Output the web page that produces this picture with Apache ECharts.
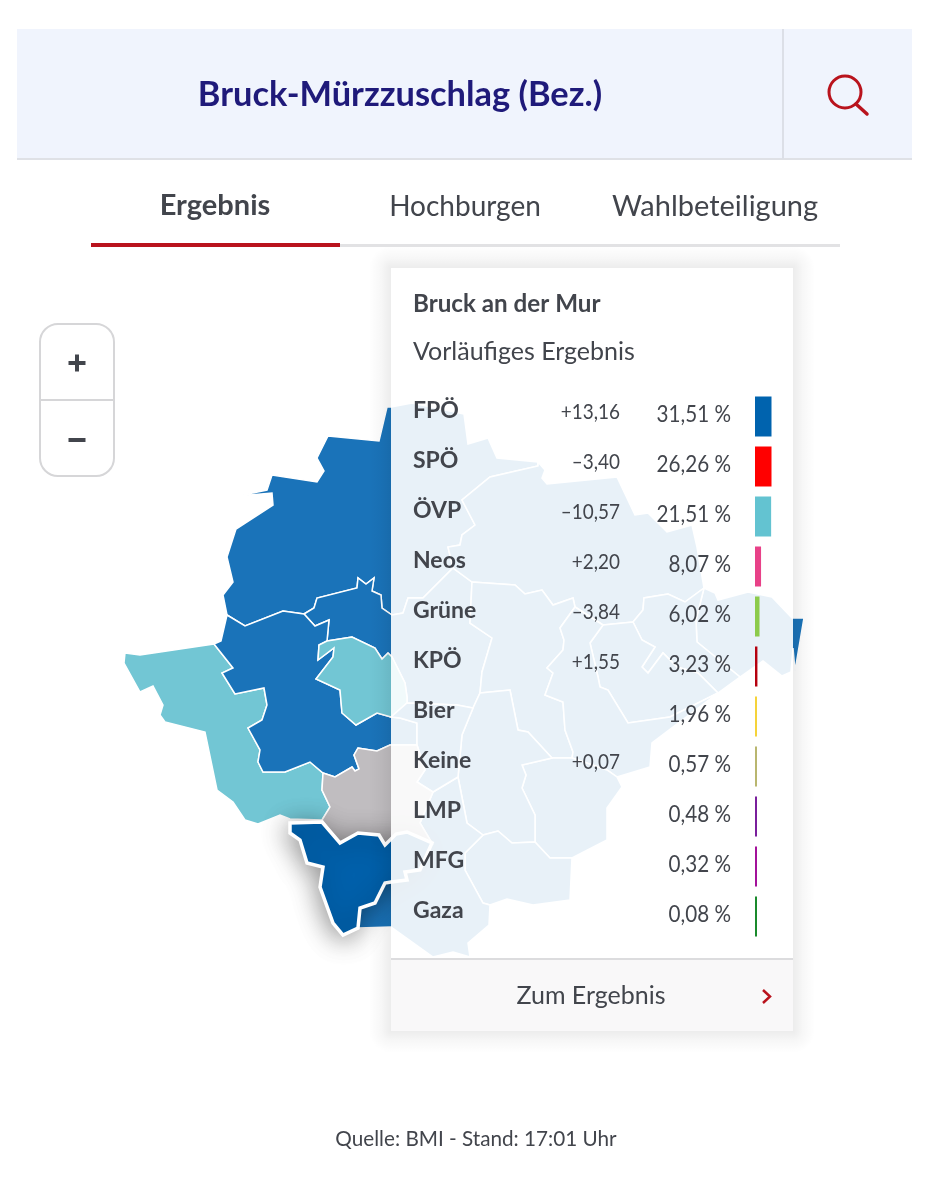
<!DOCTYPE html>
<html lang="de">
<head>
<meta charset="utf-8">
<title>Bruck-Mürzzuschlag (Bez.)</title>
<style>html,body{margin:0;padding:0;background:#fff}#chart{width:930px;height:1200px}</style>
<script src="https://cdn.jsdelivr.net/npm/echarts@6/dist/echarts.min.js"></script>
</head>
<body>
<div id="chart"></div>
<script>
// ---- result table ----
const parties = ['FPÖ','SPÖ','ÖVP','Neos','Grüne','KPÖ','Bier','Keine','LMP','MFG','Gaza'];
const shares = [31.51,26.26,21.51,8.07,6.02,3.23,1.96,0.57,0.48,0.32,0.08];
const changes = [13.16,-3.40,-10.57,2.20,-3.84,1.55,null,0.07,null,null,null];
const partyColors = ['#0063ae','#ff0000','#63c3d1','#e84188','#8ccb4b','#b5000f','#f5d33a','#b9b66f','#7a1f9c','#a3119a','#1a8a2c'];

// ---- map: municipalities and their leading party ----
const municipalities = ['Nord','Mitte-Nord','Nordost','Ost','Suedost-Mitte','Zentrum','Mitte-Ost','Suedost','Zentrum-Sued','Westzentrum','Sued','Suedrand','Westen','Westmitte','Innen','Kern','Grenzraum','Bruck an der Mur'];
const winners = ['FPÖ','FPÖ','FPÖ','FPÖ','FPÖ','FPÖ','FPÖ','FPÖ','FPÖ','FPÖ','FPÖ','FPÖ','ÖVP','FPÖ','ÖVP','FPÖ','Keine','Highlight'];
const regionColors = {'FPÖ':'#1a73b9','ÖVP':'#72c6d4','Keine':'#c0bdc0','Highlight':'#0060ab'};
const outlines = [
 [[387,407],[391,407],[412,403],[464,414],[468,444],[488,438],[497,458],[538,462],[538,466],[490,477],[462,500],[475,525],[462,535],[460,545],[448,547],[453,568],[423,598],[408,598],[403,613],[392,615],[382,608],[381,595],[372,591],[374,578],[366,584],[358,578],[357,588],[317,598],[314,608],[304,614],[283,611],[245,626],[227,615],[223,595],[233,582],[227,557],[236,529],[273,505],[272,493],[238,496],[267,490],[272,475],[317,482],[324,471],[317,458],[328,436],[379,441]],
 [[304,614],[314,608],[317,598],[357,588],[358,578],[366,584],[374,578],[372,591],[381,595],[382,608],[392,615],[403,613],[408,598],[423,598],[453,568],[472,582],[470,623],[492,638],[482,672],[480,693],[473,708],[457,705],[407,703],[407,697],[405,683],[392,657],[388,653],[382,659],[375,648],[352,637],[327,641],[329,620],[315,626]],
 [[538,462],[545,470],[542,478],[547,484],[617,477],[635,515],[648,513],[667,532],[692,525],[697,547],[704,588],[685,602],[668,594],[644,598],[643,610],[633,622],[603,625],[575,607],[573,598],[553,605],[542,590],[525,594],[515,585],[472,582],[453,568],[448,547],[460,545],[462,535],[475,525],[462,500],[490,477],[538,466]],
 [[704,588],[715,593],[718,600],[748,592],[772,597],[792,618],[804,618],[795,671],[793,648],[791,672],[782,676],[763,661],[740,677],[697,642],[696,620]],
 [[633,622],[643,610],[644,598],[668,594],[685,602],[704,588],[696,620],[697,642],[740,677],[718,693],[698,673],[677,667],[663,653],[648,673],[642,667],[655,647],[642,640]],
 [[472,582],[515,585],[525,594],[542,590],[553,605],[573,598],[575,607],[560,628],[564,640],[563,650],[547,668],[553,673],[545,695],[563,702],[565,730],[573,752],[572,758],[552,758],[528,732],[518,730],[510,690],[480,693],[482,672],[492,638],[470,623]],
 [[603,625],[633,622],[642,640],[655,647],[642,667],[648,673],[663,653],[677,667],[698,673],[718,693],[670,717],[628,723],[608,690],[600,687],[598,677],[590,643]],
 [[575,607],[603,625],[590,643],[598,677],[600,687],[608,690],[628,723],[670,717],[718,693],[652,743],[650,767],[617,777],[607,770],[572,758],[573,752],[565,730],[563,702],[545,695],[553,673],[547,668],[563,650],[564,640],[560,628]],
 [[522,765],[552,758],[572,758],[607,770],[617,777],[622,787],[607,808],[607,840],[572,858],[550,858],[535,842],[535,815],[522,788],[526,775]],
 [[480,693],[510,690],[518,730],[528,732],[552,758],[522,765],[526,775],[522,788],[535,815],[535,842],[512,843],[498,831],[483,835],[467,823],[458,777],[462,735],[473,708]],
 [[483,835],[498,831],[512,843],[535,842],[550,858],[572,858],[570,900],[533,905],[507,899],[490,905],[483,903],[465,870],[465,853]],
 [[420,823],[433,792],[458,777],[467,823],[483,835],[465,853],[465,870],[483,903],[490,905],[489,925],[468,943],[470,957],[453,952],[433,957],[391,927],[358,928],[360,908],[375,903],[385,883],[407,880],[405,872],[420,870],[432,843]],
 [[214,644],[140,655],[125,653],[124,663],[140,692],[153,686],[163,705],[160,715],[165,722],[205,732],[217,790],[233,802],[245,820],[258,824],[280,815],[290,819],[322,820],[330,807],[322,790],[323,773],[310,762],[285,772],[263,772],[258,762],[260,750],[248,728],[262,720],[267,705],[264,688],[235,694],[222,673],[233,668]],
 [[227,615],[245,626],[283,611],[304,614],[315,626],[329,620],[327,641],[319,645],[318,660],[334,648],[333,657],[316,679],[340,690],[342,713],[356,725],[377,713],[391,717],[400,718],[417,723],[417,745],[390,745],[377,751],[358,748],[354,755],[359,769],[355,771],[352,767],[335,777],[323,773],[310,762],[285,772],[263,772],[258,762],[260,750],[248,728],[262,720],[267,705],[264,688],[235,694],[222,673],[233,668],[214,644],[221,641]],
 [[319,645],[327,641],[352,637],[375,648],[382,659],[388,653],[392,657],[405,683],[407,697],[407,703],[391,717],[377,713],[356,725],[342,713],[340,690],[316,679],[333,657],[334,648],[318,660]],
 [[391,717],[407,703],[457,705],[473,708],[462,735],[458,777],[433,792],[417,782],[425,770],[417,745],[417,723],[400,718]],
 [[323,773],[335,777],[352,767],[355,771],[359,769],[354,755],[358,748],[377,751],[390,745],[417,745],[425,770],[417,782],[433,792],[420,823],[432,843],[407,832],[396,834],[385,845],[379,835],[358,833],[340,843],[322,820],[330,807],[322,790]],
 [[290,823],[322,822],[340,843],[358,833],[379,835],[385,845],[396,834],[407,832],[432,843],[420,870],[405,872],[407,880],[391,882],[385,883],[375,903],[360,908],[358,928],[343,935],[333,923],[320,887],[323,867],[307,863],[300,840],[290,833]]
];

const geo = {type:'FeatureCollection',features:municipalities.map((name,i)=>({
  type:'Feature',properties:{name},
  geometry:{type:'Polygon',coordinates:[outlines[i].concat([outlines[i][0]])]}
}))};
echarts.registerMap('bezirk',geo);

const FONT = 'Lato, "Noto Sans", sans-serif';
const INK = '#42454c';
const RED = '#b9131d';
const fmtShare = v => v.toFixed(2).replace('.',',')+' %';
const fmtChange = v => (v>0?'+':'–')+Math.abs(v).toFixed(2).replace('.',',');
const txt = (text,x,y,size,weight,fill,align,z,scaleX) => ({type:'text',x,y,z:z||60,silent:true,scaleX:scaleX||1,
  style:{text,fill,align:align||'left',verticalAlign:'middle',font:`${weight} ${size}px ${FONT}`}});

// soft popup shadow, built from edge and corner fades so it stays outside the see-through panel
const SH = 22;
const stops = [{offset:0,color:'rgba(0,0,0,0.075)'},{offset:0.45,color:'rgba(0,0,0,0.03)'},{offset:1,color:'rgba(0,0,0,0)'}];
const edge = (x,y,width,height,x0,y0,x2,y2) => ({type:'rect',z:49,silent:true,shape:{x,y,width,height},
  style:{fill:{type:'linear',x:x0,y:y0,x2,y2,colorStops:stops}}});
const corner = (x,y,cx,cy) => ({type:'rect',z:49,silent:true,shape:{x,y,width:SH,height:SH},
  style:{fill:{type:'radial',x:cx,y:cy,r:1,colorStops:stops}}});
const PX=391, PY=268, PW=402, PH=763;

const rowY = i => 416.5+50*i;
const elements = [
  // header
  {type:'rect',z:10,shape:{x:17,y:29,width:895,height:130},style:{fill:'#f0f4fd'}},
  {type:'rect',z:11,shape:{x:17,y:158,width:895,height:2},style:{fill:'#dfe1e6'}},
  {type:'rect',z:11,shape:{x:782,y:29,width:2,height:130},style:{fill:'#dcdfe7'}},
  txt('Bruck-Mürzzuschlag (Bez.)',400,95,34.4,'bold','#1f1a7a','center',12),
  {type:'circle',z:12,shape:{cx:845,cy:92,r:16},style:{fill:'none',stroke:RED,lineWidth:3}},
  {type:'line',z:12,shape:{x1:856,y1:104,x2:867,y2:114},style:{stroke:RED,lineWidth:3.5,lineCap:'round'}},
  // tabs
  txt('Ergebnis',215,206,29,'bold',INK,'center',12),
  txt('Hochburgen',465,207,28,'normal',INK,'center',12),
  txt('Wahlbeteiligung',715,207,29,'normal',INK,'center',12),
  {type:'rect',z:11,shape:{x:91,y:244,width:749,height:3},style:{fill:'#e2e2e4'}},
  {type:'rect',z:12,shape:{x:91,y:243,width:249,height:4},style:{fill:RED}},
  // zoom control
  {type:'rect',z:12,shape:{x:40,y:324,width:74,height:152,r:18},style:{fill:'#fff',stroke:'#d6d6d8',lineWidth:2}},
  {type:'line',z:13,shape:{x1:40,y1:400,x2:114,y2:400},style:{stroke:'#d6d6d8',lineWidth:2}},
  {type:'rect',z:14,shape:{x:68.5,y:361,width:17,height:4},style:{fill:INK}},
  {type:'rect',z:14,shape:{x:75,y:354.5,width:4,height:17},style:{fill:INK}},
  {type:'rect',z:14,shape:{x:68.5,y:438,width:17,height:4},style:{fill:INK}},
  // popup
  edge(PX-SH,PY,SH,PH,1,0,0,0),
  edge(PX+PW,PY,SH,PH,0,0,1,0),
  edge(PX,PY-SH,PW,SH,0,1,0,0),
  edge(PX,PY+PH,PW,SH,0,0,0,1),
  corner(PX-SH,PY-SH,1,1),
  corner(PX+PW,PY-SH,0,1),
  corner(PX-SH,PY+PH,1,0),
  corner(PX+PW,PY+PH,0,0),
  {type:'rect',z:50,shape:{x:PX,y:PY,width:PW,height:PH},style:{fill:'rgba(255,255,255,0.9)'}},
  {type:'rect',z:51,shape:{x:391,y:958,width:402,height:73},style:{fill:'#f9f8f9'}},
  {type:'rect',z:52,shape:{x:391,y:958,width:402,height:2},style:{fill:'#dcdcde'}},
  txt('Bruck an der Mur',413,304,24.2,'bold',INK),
  txt('Vorläufiges Ergebnis',413,352,25,'normal',INK),
  txt('Zum Ergebnis',591,996,25,'normal',INK,'center'),
  {type:'polyline',z:60,shape:{points:[[763,990],[770,996.5],[763,1003]]},style:{fill:'none',stroke:RED,lineWidth:2.5}},
  // source
  txt('Quelle: BMI - Stand: 17:01 Uhr',476,1139,20.7,'normal',INK,'center',12)
];
parties.forEach((p,i)=>{
  if(changes[i]!==null) elements.push(txt(fmtChange(changes[i]),620,rowY(i)-5,22,'normal',INK,'right',60,0.86));
  elements.push(txt(fmtShare(shares[i]),731,rowY(i)-2,24,'normal',INK,'right',60,0.86));
});

const chart = echarts.init(document.getElementById('chart'),null,{renderer:'canvas'});
chart.setOption({
  animation:false,
  backgroundColor:'#fff',
  graphic:{elements},
  grid:{left:755,top:391.5,width:16.5,height:550,containLabel:false},
  xAxis:{type:'value',min:0,max:22,show:false},
  yAxis:{type:'category',inverse:true,data:parties,z:100,
    axisLine:{show:false},axisTick:{show:false},splitLine:{show:false},
    axisLabel:{align:'left',verticalAlign:'bottom',lineHeight:11,margin:342,color:INK,fontFamily:FONT,fontWeight:'bold',fontSize:23}},
  series:[
    {type:'map',map:'bezirk',z:2,silent:true,roam:false,selectedMode:false,
     projection:{project:p=>p,unproject:p=>p},
     boundingCoords:[[124,403],[804,957]],left:124,top:403,width:680,height:554,
     label:{show:false},emphasis:{disabled:true},
     data:municipalities.map((name,i)=>{
       const hi = winners[i]==='Highlight';
       return {name,value:1,itemStyle:{areaColor:regionColors[winners[i]],borderColor:'#fff',borderWidth:hi?3.5:1.5,
         shadowBlur:hi?26:0,shadowColor:hi?'rgba(0,0,0,0.42)':'transparent',shadowOffsetY:hi?4:0,shadowOffsetX:hi?-2:0}};
     })},
    {type:'bar',z:100,barWidth:40,barMinHeight:2,silent:true,
     data:shares.map((v,i)=>({value:v,itemStyle:{color:partyColors[i]}}))}
  ]
});
</script>
</body>
</html>
